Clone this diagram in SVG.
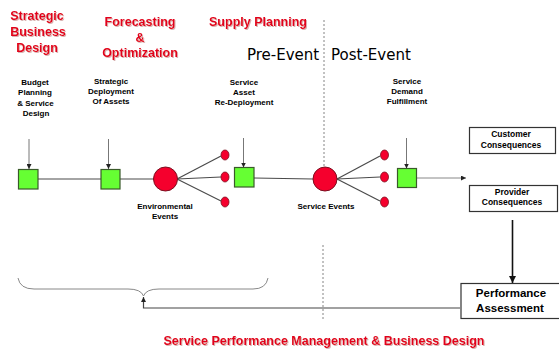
<svg xmlns="http://www.w3.org/2000/svg" width="559" height="351" viewBox="0 0 559 351">
<style>
.title{font-family:"Liberation Sans",Arial,sans-serif;font-weight:bold;font-size:12.5px;fill:#e2001a;text-anchor:middle}
.sm{font-family:"Liberation Sans",Arial,sans-serif;font-weight:bold;font-size:8px;fill:#000;text-anchor:middle}
.box{font-family:"Liberation Sans",Arial,sans-serif;font-weight:bold;font-size:8.5px;fill:#000;text-anchor:middle}
.big-lbl{font-size:11.5px}
.phase{font-family:"DejaVu Sans",sans-serif;font-size:15px;fill:#000}
.sq{fill:#66ff33;stroke:#3a5a2a;stroke-width:1.2}
.big{fill:#f5002d;stroke:#7a1020;stroke-width:1}
.dot{fill:#f5002d;stroke:#7a1020;stroke-width:0.8}
.ln{stroke:#4a4a4a;stroke-width:1.2;fill:none}
.rect{fill:#fff;stroke:#333;stroke-width:1.2}
</style>
<defs>
<filter id="sh" x="-10%" y="-10%" width="130%" height="140%">
<feDropShadow dx="1" dy="1" stdDeviation="0.6" flood-color="#c08080" flood-opacity="0.6"/>
</filter>
<marker id="ah" viewBox="0 0 6 6" refX="6" refY="3" markerWidth="5" markerHeight="5" orient="auto" markerUnits="userSpaceOnUse">
<path d="M0,0 L6,3 L0,6 z" fill="#222"/>
</marker>
<marker id="ah2" viewBox="0 0 6 6" refX="6" refY="3" markerWidth="7" markerHeight="7" orient="auto" markerUnits="userSpaceOnUse">
<path d="M0,0 L6,3 L0,6 z" fill="#111"/>
</marker>
</defs>
<rect width="559" height="351" fill="#fff"/>

<g id="titles" filter="url(#sh)">
<text class="title" x="37" y="20">Strategic</text>
<text class="title" x="38" y="36">Business</text>
<text class="title" x="37" y="52">Design</text>
<text class="title" x="140" y="25.5">Forecasting</text>
<text class="title" x="140" y="41.5">&amp;</text>
<text class="title" x="140" y="57">Optimization</text>
<text class="title" x="258" y="25.5">Supply Planning</text>
<text class="title" x="324" y="345">Service Performance Management &amp; Business Design</text>
</g>

<g id="phases">
<text class="phase" x="247" y="59.5">Pre-Event</text>
<text class="phase" x="331" y="59.5">Post-Event</text>
<line x1="324" y1="20" x2="324" y2="167" stroke="#777" stroke-width="0.9" stroke-dasharray="2,2"/>
<line x1="323" y1="245" x2="323" y2="319" stroke="#777" stroke-width="0.9" stroke-dasharray="2,2"/>
</g>

<g id="labels">
<text class="sm" x="35" y="85">Budget</text>
<text class="sm" x="35" y="95">Planning</text>
<text class="sm" x="35.5" y="106">&amp; Service</text>
<text class="sm" x="36" y="116">Design</text>
<text class="sm" x="111" y="84">Strategic</text>
<text class="sm" x="111" y="94">Deployment</text>
<text class="sm" x="111" y="104">Of Assets</text>
<text class="sm" x="244" y="85">Service</text>
<text class="sm" x="244" y="95">Asset</text>
<text class="sm" x="244" y="105">Re-Deployment</text>
<text class="sm" x="407" y="84">Service</text>
<text class="sm" x="407" y="93.5">Demand</text>
<text class="sm" x="407" y="104">Fulfillment</text>
<text class="sm" x="165" y="209">Environmental</text>
<text class="sm" x="165" y="219">Events</text>
<text class="sm" x="326" y="209">Service Events</text>
</g>

<g id="connectors">
<line class="ln" x1="38" y1="179" x2="101" y2="179"/>
<line class="ln" x1="120" y1="179" x2="154" y2="179"/>
<line class="ln" x1="177" y1="179" x2="221" y2="156"/>
<line class="ln" x1="177" y1="179" x2="221" y2="177"/>
<line class="ln" x1="177" y1="179" x2="221" y2="201"/>
<line class="ln" x1="254" y1="178" x2="313" y2="179"/>
<line class="ln" x1="337" y1="179" x2="380" y2="156"/>
<line class="ln" x1="337" y1="179" x2="380" y2="177"/>
<line class="ln" x1="337" y1="179" x2="380" y2="201"/>
<line x1="417" y1="178" x2="466" y2="178" stroke="#888" stroke-width="1" marker-end="url(#ah)"/>
<line x1="29" y1="139" x2="29" y2="169" stroke="#777" stroke-width="1" marker-end="url(#ah)"/>
<line x1="108.5" y1="139" x2="108.5" y2="169" stroke="#777" stroke-width="1" marker-end="url(#ah)"/>
<line x1="243.5" y1="138" x2="243.5" y2="167.5" stroke="#777" stroke-width="1" marker-end="url(#ah)"/>
<line x1="406.5" y1="138" x2="406.5" y2="168.5" stroke="#777" stroke-width="1" marker-end="url(#ah)"/>
<line x1="512.5" y1="220" x2="512.5" y2="283" stroke="#111" stroke-width="1.6" marker-end="url(#ah2)"/>
<path d="M460,308 L143.5,308 L143.5,297" stroke="#444" stroke-width="1.2" fill="none" marker-end="url(#ah)"/>
<path d="M18,278 Q20,289 34,289 L128,289 Q141,289 143.5,296 Q146,289 159,289 L253,289 Q266,289 268,278" stroke="#888" stroke-width="1" fill="none"/>
</g>

<g id="sq1"><rect class="sq" x="18.5" y="169.5" width="19.5" height="19.5"/></g>
<g id="sq2"><rect class="sq" x="101" y="169.5" width="19" height="19.5"/></g>
<g id="env"><circle class="big" cx="165.5" cy="179" r="12"/></g>
<g id="env-dots">
<ellipse class="dot" cx="225" cy="155" rx="4" ry="5"/>
<ellipse class="dot" cx="225" cy="177" rx="4" ry="5"/>
<ellipse class="dot" cx="225" cy="202" rx="4" ry="5"/>
</g>
<g id="sq3"><rect class="sq" x="234.5" y="167.5" width="19.5" height="19.5"/></g>
<g id="svc"><circle class="big" cx="325" cy="179" r="12"/></g>
<g id="svc-dots">
<ellipse class="dot" cx="384.5" cy="155" rx="4" ry="5"/>
<ellipse class="dot" cx="384.5" cy="177" rx="4" ry="5"/>
<ellipse class="dot" cx="384.5" cy="202" rx="4" ry="5"/>
</g>
<g id="sq4"><rect class="sq" x="397.5" y="168.5" width="19" height="19"/></g>

<g id="customer">
<rect class="rect" x="469.5" y="127.5" width="86" height="26"/>
<text class="box" x="511" y="137">Customer</text>
<text class="box" x="511" y="147.5">Consequences</text>
</g>
<g id="provider">
<rect class="rect" x="469.5" y="185.5" width="88" height="26"/>
<text class="box" x="512" y="194.5">Provider</text>
<text class="box" x="512" y="205">Consequences</text>
</g>
<g id="performance">
<rect class="rect" x="461" y="283.5" width="100" height="35"/>
<text class="box big-lbl" x="511" y="296.5">Performance</text>
<text class="box big-lbl" x="510" y="312">Assessment</text>
</g>
</svg>
